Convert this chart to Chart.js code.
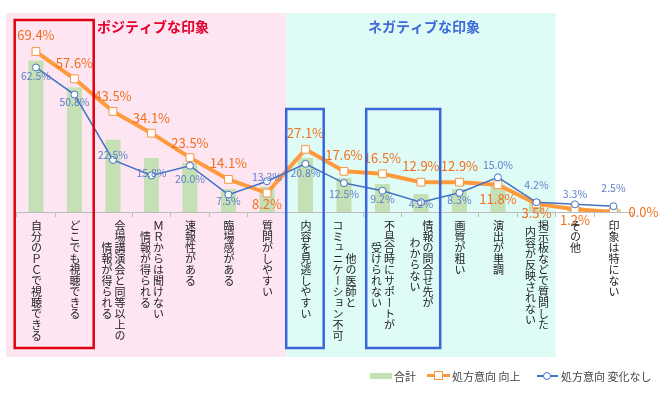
<!DOCTYPE html>
<html>
<head>
<meta charset="utf-8">
<script src="https://cdn.jsdelivr.net/npm/chart.js@4.4.0/dist/chart.umd.min.js"></script>
<style>
  body { margin: 0; background: #fff; font-family: "Noto Sans CJK JP", sans-serif; }
  #wrap { position: relative; width: 660px; height: 393px; }
  .cat {
    position: absolute; writing-mode: vertical-rl; text-orientation: mixed;
    font-size: 11px; line-height: 13px; letter-spacing: 0; color: #222;
    text-align: center; white-space: pre; transform: translateX(-50%);
  }
  .lg { position: absolute; }
  .lgtxt { position: absolute; top: 368px; font-size: 11px; line-height: 16px; color: #444; white-space: pre; }
</style>
</head>
<body>
<div id="wrap">
  <canvas id="chart"></canvas>
  <div class="lg" style="left:370px;top:373px;width:22px;height:6px;background:#C5E0B4"></div>
  <div class="lgtxt" style="left:394px">合計</div>
  <div class="lg" style="left:427px;top:374px;width:23px;height:3px;background:#FF9A3C"></div>
  <div class="lg" style="left:434px;top:371px;width:7px;height:7px;background:#fff;border:1px solid #F79646"></div>
  <div class="lgtxt" style="left:452px">処方意向 向上</div>
  <div class="lg" style="left:537px;top:375px;width:21px;height:1.5px;background:#4472C4"></div>
  <div class="lg" style="left:543px;top:372px;width:6px;height:6px;border-radius:50%;background:#fff;border:1px solid #4472C4"></div>
  <div class="lgtxt" style="left:561px">処方意向 変化なし</div>
</div>
<script>
// 項目
var categories = [
  '自分のＰＣで視聴できる',
  'どこでも視聴できる',
  '会場講演会と同等以上の\n情報が得られる',
  'ＭＲからは聞けない\n情報が得られる',
  '速報性がある',
  '臨場感がある',
  '質問がしやすい',
  '内容を見逃しやすい',
  '他の医師と\nコミュニケーション不可',
  '不具合時にサポートが\n受けられない',
  '情報の問合せ先が\nわからない',
  '画質が粗い',
  '演出が単調',
  '掲示板などで質問した\n内容が反映されない',
  'その他',
  '印象は特にない'
];
var totalValues     = [65.5, 53.8, 31.2, 23.4, 21.2, 10.0, 10.9, 23.4, 14.7, 12.1, 7.8, 10.0, 11.7, 3.9, 2.2, 1.3];
var improveValues   = [69.4, 57.6, 43.5, 34.1, 23.5, 14.1, 8.2, 27.1, 17.6, 16.5, 12.9, 12.9, 11.8, 3.5, 1.2, 0.0];
var unchangedValues = [62.5, 50.8, 22.5, 15.8, 20.0, 7.5, 13.3, 20.8, 12.5, 9.2, 4.2, 8.3, 15.0, 4.2, 3.3, 2.5];

// ラベルの位置ずらし (px)
var improveDy = [-16, -16, -15, -15, -15, -16, 11, -16, -16, -16, -16, -16, 14, 9, 11, 0];
var unchangedDy = [15, 14, 15, 15, 16, 12, -10, 15, 16, 15, 10, 11, -20, -18, -13, -21];

var bgPlugin = {
  id: 'bg',
  beforeDraw: function(chart) {
    var ctx = chart.ctx, x = chart.scales.x;
    var half = (x.getPixelForValue(1) - x.getPixelForValue(0)) / 2;
    var b7 = x.getPixelForValue(7) - half, b14 = x.getPixelForValue(14) - half;
    ctx.save();
    ctx.fillStyle = '#FDE5F2';
    ctx.fillRect(6, 13, b7 - 6, 344);
    ctx.fillStyle = '#DEFBF5';
    ctx.fillRect(b7, 13, b14 - b7, 344);
    ctx.restore();
  },
  afterDatasetsDraw: function(chart) {
    var ctx = chart.ctx;
    ctx.save();
    ctx.textAlign = 'center';
    ctx.textBaseline = 'middle';
    ctx.font = '13px "Noto Sans CJK JP"';
    ctx.fillStyle = '#F26F1E';
    chart.getDatasetMeta(1).data.forEach(function(p, i) {
      var dx = i === 15 ? 30 : 0;
      ctx.fillText(improveValues[i].toFixed(1) + '%', p.x + dx, p.y + improveDy[i]);
    });
    ctx.font = '10.5px "Noto Sans CJK JP"';
    ctx.fillStyle = '#5B7FC9';
    chart.getDatasetMeta(2).data.forEach(function(p, i) {
      ctx.fillText(unchangedValues[i].toFixed(1) + '%', p.x, p.y + unchangedDy[i]);
    });
    ctx.restore();
  },
  afterDraw: function(chart) {
    var ctx = chart.ctx, x = chart.scales.x;
    var half = (x.getPixelForValue(1) - x.getPixelForValue(0)) / 2;
    ctx.save();
    ctx.lineWidth = 2.5;
    ctx.strokeStyle = '#E0000F';
    ctx.strokeRect(x.getPixelForValue(0) - half - 2, 20, half * 4 + 2, 328);
    ctx.strokeStyle = '#3A66DB';
    ctx.strokeRect(x.getPixelForValue(7) - half, 109, half * 2 - 1, 239);
    ctx.strokeRect(x.getPixelForValue(9) - half + 3, 109, half * 4 - 3, 239);
    ctx.font = 'bold 14px "Noto Sans CJK JP"';
    ctx.textBaseline = 'middle';
    ctx.textAlign = 'center';
    ctx.fillStyle = '#E4002B';
    ctx.fillText('ポジティブな印象', 153, 27);
    ctx.fillStyle = '#3F6AD8';
    ctx.fillText('ネガティブな印象', 424, 27);
    ctx.restore();
  }
};

var chart = new Chart(document.getElementById('chart'), {
  data: {
    labels: categories,
    datasets: [
      {
        type: 'line', label: '処方意向　変化なし', data: unchangedValues, order: 0,
        borderColor: '#4472C4', borderWidth: 1.5,
        pointStyle: 'circle', pointRadius: 3.5, pointBorderWidth: 1,
        pointBackgroundColor: '#fff', pointBorderColor: '#4472C4'
      },
      {
        type: 'line', label: '処方意向　向上', data: improveValues, order: 1,
        borderColor: '#FF9A3C', borderWidth: 4,
        pointStyle: 'rect', pointRadius: 5.5, pointBorderWidth: 1,
        pointBackgroundColor: '#fff', pointBorderColor: '#F79646'
      },
      {
        type: 'bar', label: '合計', data: totalValues, order: 2,
        backgroundColor: '#C5E0B4', barPercentage: 0.39, categoryPercentage: 1
      }
    ]
  },
  options: {
    responsive: true,
    maintainAspectRatio: false,
    animation: false,
    layout: { padding: { left: 16.7, right: 27.3, top: 27, bottom: 0 } },
    plugins: { legend: { display: false }, tooltip: { enabled: false } },
    scales: {
      x: {
        ticks: { display: false },
        grid: { offset: true, drawOnChartArea: false, tickLength: 5, color: '#BDBDBD' },
        border: { color: '#BDBDBD' },
        afterFit: function(s) { s.height = 181; }
      },
      y: { display: false, min: 0, max: 80 }
    }
  },
  plugins: [bgPlugin]
});

// 縦書きの項目名
var wrap = document.getElementById('wrap');
categories.forEach(function(c, i) {
  var d = document.createElement('div');
  d.className = 'cat';
  d.textContent = c;
  d.style.left = chart.scales.x.getPixelForValue(i) + 'px';
  d.style.top = (chart.scales.x.top + 8) + 'px';
  wrap.appendChild(d);
});
</script>
</body>
</html>
